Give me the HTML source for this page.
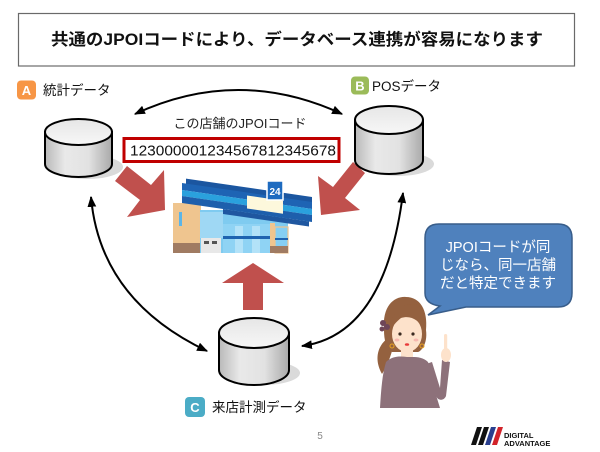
<!DOCTYPE html>
<html>
<head>
<meta charset="utf-8">
<style>
  html,body{margin:0;padding:0;background:#fff;}
  svg{display:block;}
  text{font-family:"Liberation Sans","Noto Sans CJK JP",sans-serif;}
</style>
</head>
<body>
<svg width="600" height="452" viewBox="0 0 600 452" xmlns="http://www.w3.org/2000/svg">
  <defs>
    <marker id="ah" viewBox="0 0 10 8" refX="9" refY="4" markerWidth="11" markerHeight="9" markerUnits="userSpaceOnUse" orient="auto-start-reverse">
      <path d="M0,0 L10,4 L0,8 Z" fill="#000"/>
    </marker>
    <linearGradient id="side" x1="0" y1="0" x2="1" y2="0">
      <stop offset="0" stop-color="#b9b9b9"/>
      <stop offset="0.3" stop-color="#e9e9e9"/>
      <stop offset="0.65" stop-color="#e2e2e2"/>
      <stop offset="1" stop-color="#a9a9a9"/>
    </linearGradient>
    <linearGradient id="top" x1="0" y1="0" x2="0" y2="1">
      <stop offset="0" stop-color="#e6e6e6"/>
      <stop offset="1" stop-color="#f7f7f7"/>
    </linearGradient>
  </defs>

  <!-- Title box -->
  <rect x="18.5" y="13.5" width="556" height="52.5" fill="#fff" stroke="#6a6a6a" stroke-width="1.2"/>
  <text x="51" y="45" font-size="16.5" font-weight="bold" fill="#111" textLength="492" lengthAdjust="spacingAndGlyphs">共通のJPOIコードにより、データベース連携が容易になります</text>

  <!-- Labels -->
  <rect x="17" y="80.5" width="19" height="19" rx="4" fill="#f79646"/>
  <text x="26.5" y="95" font-size="13" font-weight="bold" fill="#fff" text-anchor="middle">A</text>
  <text x="43" y="95" font-size="13.5" fill="#111">統計データ</text>

  <rect x="351" y="76.5" width="18" height="18" rx="4" fill="#9bbb59"/>
  <text x="360" y="90.5" font-size="13" font-weight="bold" fill="#fff" text-anchor="middle">B</text>
  <text x="372" y="91" font-size="13.5" fill="#111">POSデータ</text>

  <rect x="185" y="397" width="20" height="20" rx="4" fill="#4bacc6"/>
  <text x="195" y="412" font-size="13" font-weight="bold" fill="#fff" text-anchor="middle">C</text>
  <text x="212" y="412" font-size="13.5" fill="#111">来店計測データ</text>

  <!-- Black curved double arrows -->
  <path d="M135,114 Q238,66 342,114" fill="none" stroke="#000" stroke-width="2" marker-start="url(#ah)" marker-end="url(#ah)"/>
  <path d="M91,197 Q100,300 207,351" fill="none" stroke="#000" stroke-width="2" marker-start="url(#ah)" marker-end="url(#ah)"/>
  <path d="M403,193 Q385,335 302,346" fill="none" stroke="#000" stroke-width="2" marker-start="url(#ah)" marker-end="url(#ah)"/>

  <!-- Red arrows -->
  <polygon points="127,166 151,185 164,170 165,210 127,217 140,200 115,181" fill="#c0504d"/>
  <polygon points="353,162 333,187 318,176 321,215 360,210 345,198 365,173" fill="#c0504d"/>
  <polygon points="243,310 243,283 222,283 253,263 284,283 263,283 263,310" fill="#c0504d"/>

  <!-- Cylinder A -->
  <ellipse cx="87" cy="167" rx="36" ry="12" fill="#dadada"/>
  <path d="M45,132 V164 A33.5,13 0 0 0 112,164 V132 Z" fill="url(#side)" stroke="#000" stroke-width="2"/>
  <ellipse cx="78.5" cy="132" rx="33.5" ry="13" fill="url(#top)" stroke="#000" stroke-width="2"/>

  <!-- Cylinder B -->
  <ellipse cx="398" cy="164" rx="36" ry="12" fill="#dadada"/>
  <path d="M355,120 V160 A34,14 0 0 0 423,160 V120 Z" fill="url(#side)" stroke="#000" stroke-width="2"/>
  <ellipse cx="389" cy="120" rx="34" ry="14" fill="url(#top)" stroke="#000" stroke-width="2"/>

  <!-- Cylinder C -->
  <ellipse cx="263" cy="373" rx="37" ry="12" fill="#dadada"/>
  <path d="M219,333 V370 A35,15 0 0 0 289,370 V333 Z" fill="url(#side)" stroke="#000" stroke-width="2"/>
  <ellipse cx="254" cy="333" rx="35" ry="15" fill="url(#top)" stroke="#000" stroke-width="2"/>

  <!-- JPOI code -->
  <text x="240" y="128" font-size="13" fill="#222" text-anchor="middle">この店舗のJPOIコード</text>
  <rect x="124" y="138.5" width="215" height="23" fill="#fff" stroke="#c00000" stroke-width="3"/>
  <text x="130" y="155.5" font-size="14.5" fill="#111" textLength="206" lengthAdjust="spacingAndGlyphs">123000001234567812345678</text>

  <!-- Store -->
  <g>
    <rect x="173" y="203" width="28" height="50" fill="#efc58f"/>
    <rect x="173" y="243" width="28" height="10" fill="#a07b62"/>
    <rect x="179" y="212" width="3" height="14" fill="#5bb5e8"/>
    <rect x="200" y="210" width="88" height="43" fill="#7fcbf0"/>
    <rect x="200" y="212" width="23" height="26" fill="#9fd8f4"/>
    <rect x="223" y="224" width="47" height="29" fill="#8fd3f4"/>
    <rect x="235" y="226" width="8" height="27" fill="#b3e2f8"/>
    <rect x="252" y="226" width="8" height="27" fill="#b3e2f8"/>
    <rect x="223" y="236" width="47" height="3" fill="#1e63b0"/>
    <rect x="270" y="223" width="5" height="30" fill="#efc58f"/>
    <rect x="275" y="227" width="13" height="26" fill="#86cff3" stroke="#efc58f" stroke-width="1.2"/>
    <rect x="275" y="238" width="13" height="2" fill="#1e63b0"/>
    <rect x="270" y="246" width="18" height="7" fill="#a07b62"/>
    <rect x="201" y="238" width="20" height="15" fill="#e8e8e8"/>
    <rect x="204" y="241" width="5" height="3" fill="#555"/>
    <rect x="212" y="241" width="5" height="3" fill="#555"/>
    <g transform="translate(182,190) skewY(8.3)">
      <rect x="4" y="-12" width="126" height="6" fill="#1b56a0"/>
      <rect x="0" y="-7" width="130" height="7" fill="#1e64b4"/>
      <rect x="0" y="0" width="130" height="6" fill="#2aa1dd"/>
      <rect x="0" y="6" width="130" height="7" fill="#1e5fac"/>
      <rect x="41" y="13" width="86" height="5" fill="#1f57a0"/>
      <rect x="65" y="-4" width="36" height="13" fill="#fdf8dc"/>
    </g>
    <rect x="267" y="181" width="16" height="19" fill="#1e6bc0" stroke="#fff" stroke-width="1.5"/>
    <text x="275" y="195" font-size="10" font-weight="bold" fill="#fff" text-anchor="middle">24</text>
  </g>

  <!-- Speech bubble -->
  <path d="M439,224 H558 Q572,224 572,238 V293 Q572,307 558,307 H466 L428,315 L440,306 Q425,304 425,293 V238 Q425,224 439,224 Z" fill="#4f81bd" stroke="#385d8a" stroke-width="1.5"/>
  <text x="498" y="252" font-size="14.5" fill="#fff" text-anchor="middle">JPOIコードが同</text>
  <text x="498" y="270" font-size="14.5" fill="#fff" text-anchor="middle">じなら、同一店舗</text>
  <text x="498" y="288" font-size="14.5" fill="#fff" text-anchor="middle">だと特定できます</text>

  <!-- Woman -->
  <g>
    <path d="M388,338 C377,346 374,360 382,374 C387,366 391,356 393,347Z" fill="#94613f"/>
    <path d="M384,330 C382,305 395,296 406,297 C420,297 428,310 426,330 C428,345 420,352 418,352 L392,352 C386,348 384,340 384,330Z" fill="#94613f"/>
    <rect x="401" y="348" width="12" height="11" fill="#fde2cb"/>
    <ellipse cx="407" cy="334" rx="15" ry="18" fill="#fde2cb"/>
    <path d="M390,330 C391,310 405,301 418,305 C425,311 426,320 424,330 C419,320 411,315 401,318 C396,322 393,326 390,330Z" fill="#94613f"/>
    <circle cx="400" cy="334" r="1.6" fill="#3a2a20"/>
    <circle cx="413" cy="334" r="1.6" fill="#3a2a20"/>
    <ellipse cx="397" cy="340" rx="2.5" ry="1.5" fill="#f7b8b0"/>
    <ellipse cx="416" cy="340" rx="2.5" ry="1.5" fill="#f7b8b0"/>
    <ellipse cx="407" cy="344.5" rx="2.2" ry="1.3" fill="#e83a3a"/>
    <circle cx="383" cy="323" r="3" fill="#6e4558"/>
    <circle cx="387" cy="327" r="3" fill="#6e4558"/>
    <circle cx="382" cy="329" r="2.5" fill="#6e4558"/>
    <circle cx="392" cy="346" r="2" fill="none" stroke="#e8a020" stroke-width="1"/>
    <circle cx="422" cy="346" r="2" fill="none" stroke="#e8a020" stroke-width="1"/>
    <path d="M386,362 C392,356 400,356 407,357 C414,357 422,356 428,362 C432,372 434,385 436,395 L440,408 L380,408 C381,392 382,375 386,362Z" fill="#8d717a"/>
    <path d="M426,364 L436,396 C438,401 444,401 446,396 L450,362 L442,360 L440,388 L432,362Z" fill="#8d717a"/>
    <ellipse cx="446" cy="355" rx="5" ry="7" fill="#fde2cb"/>
    <rect x="444" y="334" width="3.2" height="18" rx="1.6" fill="#fde2cb"/>
  </g>

  <!-- Page number -->
  <text x="320" y="439" font-size="10" fill="#888" text-anchor="middle">5</text>

  <!-- Logo -->
  <polygon points="477,427 482,427 476,445 471,445" fill="#111"/>
  <polygon points="484,427 489,427 483,445 478,445" fill="#111"/>
  <polygon points="491,427 496,427 490,445 485,445" fill="#2a3f8e"/>
  <polygon points="498,427 503,427 497,445 492,445" fill="#d2232a"/>
  <text x="504" y="438" font-size="7.5" font-weight="bold" fill="#111">DIGITAL</text>
  <text x="504" y="446" font-size="7.5" font-weight="bold" fill="#111">ADVANTAGE</text>
</svg>
</body>
</html>
